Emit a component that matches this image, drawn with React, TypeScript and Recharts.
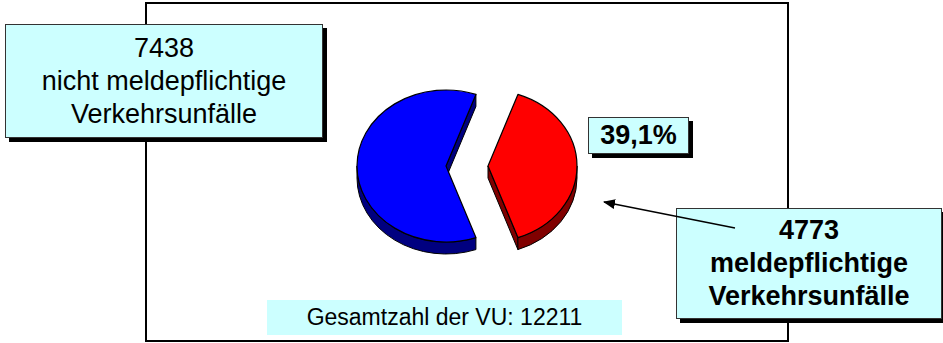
import React from "react";
import { PieChart, Pie, Cell } from "recharts";

const categories = ["nicht meldepflichtige Verkehrsunfälle", "meldepflichtige Verkehrsunfälle"];
const values = [7438, 4773];
const boxTitles = ["nicht meldepflichtige", "meldepflichtige"];
const boxSubtitles = ["Verkehrsunfälle", "Verkehrsunfälle"];
const totalLabel = "Gesamtzahl der VU";

const TOP_COLORS = ["#0000ff", "#ff0000"];
const SIDE_COLORS = ["#000080", "#800000"];

const W = 943;
const H = 343;
const TILT = 0.854;
const DEPTH = 12;
const EXPLODE = 21;
const FONT = "'Liberation Sans', Arial, Helvetica, sans-serif";

const data = categories.map((name, i) => ({ name, value: values[i], idx: i }));
const total = values.reduce((a, b) => a + b, 0);
const firstDeg = (values[0] / total) * 360;
const START = 180 - firstDeg / 2;
const pctLabel = ((values[1] / total) * 100).toFixed(1).replace(".", ",") + "%";

const rad = (a: number) => (a * Math.PI) / 180;

function renderSlice(props: any) {
  const { cx, cy, outerRadius: R, startAngle, endAngle, midAngle } = props;
  const idx = props.idx ?? props.payload?.idx ?? 0;
  const sa = Math.min(startAngle, endAngle);
  const ea = Math.max(startAngle, endAngle);
  const mid = midAngle ?? (sa + ea) / 2;
  const RY = R * TILT;
  const ox = cx + EXPLODE * Math.cos(rad(mid));
  const oy = cy - EXPLODE * TILT * Math.sin(rad(mid));
  const p = (a: number, d = 0) => [ox + R * Math.cos(rad(a)), oy - RY * Math.sin(rad(a)) + d];
  const f = (pt: number[]) => `${pt[0].toFixed(2)},${pt[1].toFixed(2)}`;
  const top = TOP_COLORS[idx];
  const side = SIDE_COLORS[idx];
  const parts: any[] = [];

  if (Math.cos(rad(sa)) > 0) {
    parts.push(
      <path key="ws" d={`M${f([ox, oy])} L${f(p(sa))} L${f(p(sa, DEPTH))} L${f([ox, oy + DEPTH])} Z`} fill={side} stroke="#000" strokeWidth={1} strokeLinejoin="round" />
    );
  }
  if (Math.cos(rad(ea)) < 0) {
    parts.push(
      <path key="we" d={`M${f([ox, oy])} L${f(p(ea))} L${f(p(ea, DEPTH))} L${f([ox, oy + DEPTH])} Z`} fill={side} stroke="#000" strokeWidth={1} strokeLinejoin="round" />
    );
  }
  for (let k = -1; k <= 2; k++) {
    const lo = Math.max(sa, 180 + 360 * k);
    const hi = Math.min(ea, 360 + 360 * k);
    if (hi > lo + 0.01) {
      parts.push(
        <path
          key={"s" + k}
          d={`M${f(p(lo))} A${R},${RY} 0 0 0 ${f(p(hi))} L${f(p(hi, DEPTH))} A${R},${RY} 0 0 1 ${f(p(lo, DEPTH))} Z`}
          fill={side}
          stroke="#000"
          strokeWidth={1}
          strokeLinejoin="round"
        />
      );
    }
  }
  const large = ea - sa > 180 ? 1 : 0;
  parts.push(
    <path
      key="top"
      d={`M${f([ox, oy])} L${f(p(sa))} A${R},${RY} 0 ${large} 0 ${f(p(ea))} Z`}
      fill={top}
      stroke="#000"
      strokeWidth={1.2}
      strokeLinejoin="round"
    />
  );
  return <g>{parts}</g>;
}

const boxBase: React.CSSProperties = {
  position: "absolute",
  background: "#ccffff",
  border: "1px solid #333",
  boxShadow: "4px 4px 0 #000",
  boxSizing: "border-box",
  display: "flex",
  flexDirection: "column",
  alignItems: "center",
  justifyContent: "center",
  color: "#000",
  fontFamily: FONT,
  fontSize: 27,
  lineHeight: "33px",
  textAlign: "center",
  whiteSpace: "nowrap",
};

export default function App() {
  return (
    <div style={{ position: "absolute", left: 0, top: 0, width: W, height: H, background: "#fff", overflow: "hidden", fontFamily: FONT }}>
      <div style={{ position: "absolute", left: 145, top: 2, width: 644, height: 340, border: "2px solid #000", boxSizing: "border-box" }} />
      <div style={{ position: "absolute", left: 0, top: 0 }}>
        <PieChart width={W} height={H} margin={{ top: 0, right: 0, bottom: 0, left: 0 }}>
          <Pie
            data={data}
            dataKey="value"
            nameKey="name"
            cx={467}
            cy={166}
            outerRadius={89}
            startAngle={START}
            endAngle={START + 360}
            isAnimationActive={false}
            shape={renderSlice}
            stroke="none"
          >
            {data.map((d, i) => (
              <Cell key={d.name} fill={TOP_COLORS[i]} />
            ))}
          </Pie>
        </PieChart>
      </div>

      <div style={{ ...boxBase, left: 5, top: 24, width: 318, height: 114 }}>
        <div>{values[0]}</div>
        <div>{boxTitles[0]}</div>
        <div>{boxSubtitles[0]}</div>
      </div>

      <div style={{ ...boxBase, left: 588, top: 117, width: 101, height: 37, fontWeight: "bold" }}>
        <div>{pctLabel}</div>
      </div>

      <div style={{ ...boxBase, left: 676, top: 208, width: 266, height: 111, fontWeight: "bold" }}>
        <div>{values[1]}</div>
        <div>{boxTitles[1]}</div>
        <div>{boxSubtitles[1]}</div>
      </div>

      <div style={{ ...boxBase, left: 267, top: 300, width: 355, height: 35, border: "none", boxShadow: "none", fontSize: 23 }}>
        <div>{`${totalLabel}: ${total}`}</div>
      </div>

      <svg width={W} height={H} style={{ position: "absolute", left: 0, top: 0, pointerEvents: "none" }}>
        <defs>
          <marker id="ah" markerWidth="12" markerHeight="10" refX="11" refY="5" orient="auto" markerUnits="userSpaceOnUse">
            <path d="M0,0 L12,5 L0,10 Z" fill="#000" />
          </marker>
        </defs>
        <line x1={735} y1={228} x2={604} y2={202} stroke="#000" strokeWidth={1.3} markerEnd="url(#ah)" />
      </svg>
    </div>
  );
}
